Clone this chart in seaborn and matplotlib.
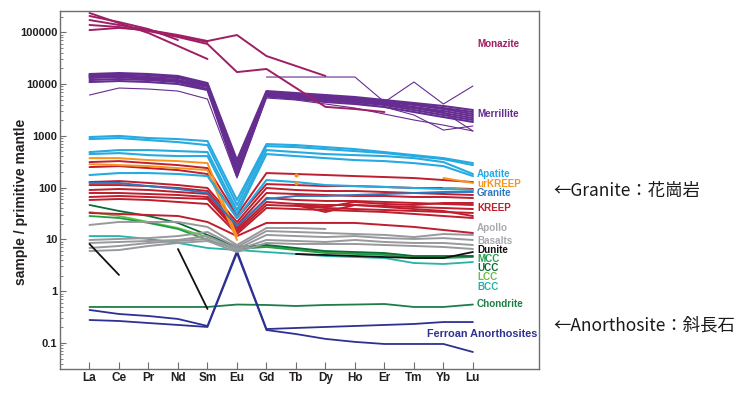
import numpy as np
import pandas as pd
import matplotlib
matplotlib.use("Agg")
import matplotlib.pyplot as plt
import seaborn as sns
from matplotlib.ticker import LogLocator, NullFormatter

N = None
ELEMENTS = ['La', 'Ce', 'Pr', 'Nd', 'Sm', 'Eu', 'Gd', 'Tb', 'Dy', 'Ho', 'Er', 'Tm', 'Yb', 'Lu']

monazite = [
    [235000, 150000, 96500, 54200, 30400, N, N, N, N, N, N, N, N, N],
    [206000, 157000, 115000, 70700, N, N, N, N, N, N, N, N, N, N],
    [172000, 138000, 110000, 88300, 67600, 88300, 34700, 22300, 14300, N, N, N, N, N],
    [138000, 126000, 105000, 80800, 59200, 17000, 19500, 8400, 3620, 3290, 2880, N, N, N],
    [110000, 121000, 110000, 84500, 64700, N, N, N, N, N, N, N, N, N],
]

merrillite = [
    [15600, 16300, 15600, 14300, 10450, 341, 7320, 6700, 6130, 5610, 4910, 4300, 3760, 3150],
    [14900, 15600, 14900, 13650, 10000, 298, 7000, 6410, 5870, 5370, 4700, 4110, 3440, 2880],
    [14300, 14900, 13650, 13060, 9560, 261, 6700, 6130, 5610, 5130, 4490, 3930, 3290, 2630],
    [13650, 14300, 13060, 11950, 9150, 239, 6700, 5870, 5370, 4910, 4300, 3600, 3010, 2410],
    [13060, 13650, 12490, 11430, 8750, 219, 6410, 5610, 5130, 4700, 4110, 3440, 2750, 2200],
    [11950, 12490, 11950, 10930, 8000, 191, 6130, 5370, 4910, 4490, 3930, 3150, 2520, 2020],
    [10930, 11430, 10930, 10000, 7660, 167, 5870, 5130, 4490, 4110, 3600, 2880, 2300, 1850],
]
merrillite_thin = [
    [6130, 8370, 8000, 7320, 5130, 153, 5370, 4910, 4110, 3440, 2630, 2020, 1610, 1240],
    [N, N, N, N, N, N, 13650, 13650, 13650, 13650, 4490, 10930, 4110, 9150],
    [N, N, N, N, N, N, 5610, 5130, 4700, 4300, 3600, 2520, 1290, 1550],
    [N, N, N, N, N, N, 6130, 5610, 5130, 4700, 4110, 3440, 2880, 1240],
]

apatite = [
    [947, 996, 905, 865, 791, 57.7, 692, 662, 605, 554, 485, 424, 371, 297],
    [865, 905, 827, 756, 662, 46.2, 633, 605, 554, 507, 464, 406, 355, 272],
    [485, 530, 530, 507, 485, 37.0, 530, 485, 444, 424, 406, 371, 311, 183],
    [444, 464, 424, 406, 406, 31.0, 444, 406, 371, 340, 325, 297, 260, 167],
    [175, 191, 191, 183, 167, 25.9, 140, 128, 112, 107, 103, 98.3, 94.0, 89.9],
]

urkreep = [
    [371, 371, 340, 325, 297, 11.6, N, N, N, N, N, N, N, N],
    [284, 272, 260, 238, 218, 9.75, N, N, N, N, N, N, N, N],
    [N, N, N, N, N, N, N, N, N, N, N, N, 153, 123],
    [N, N, N, N, N, N, N, N, N, N, N, N, 98.3, 89.9],
]
urkreep_tb = [175, 123]

granite = [
    [123, 123, 107, 94.0, 78.7, 18.2, 60.3, 68.9, 68.9, 72.0, 75.3, 78.7, 82.3, 82.3],
]

kreep = [
    [311, 325, 297, 272, 238, 29.6, 191, 183, 175, 167, 160, 153, 140, 128],
    [249, 260, 238, 218, 183, 25.9, 117, 112, 107, 107, 103, 98.3, 98.3, 94.0],
    [128, 134, 123, 112, 98.3, 21.7, 98.3, 89.9, 86.0, 86.0, 82.3, 78.7, 75.3, 72.0],
    [112, 112, 107, 98.3, 86.0, 19.0, 78.7, 75.3, 72.0, 68.9, 68.9, 65.9, 65.9, 63.0],
    [89.9, 94.0, 89.9, 82.3, 75.3, 16.6, 63.0, 57.7, 55.2, 55.2, 52.8, 50.5, 48.3, 46.2],
    [78.7, 78.7, 75.3, 72.0, 65.9, 15.2, 52.8, 48.3, 46.2, 46.2, 44.2, 42.2, 40.4, 38.6],
    [65.9, 68.9, 65.9, 63.0, 60.3, 13.9, 46.2, 44.2, 40.4, 38.6, 37.0, 35.4, 33.8, 32.4],
    [57.7, 60.3, 57.7, 52.8, 48.3, 12.7, 40.4, 38.6, 37.0, 35.4, 33.8, 31.0, 28.3, 25.9],
    [32.4, 31.0, 29.6, 28.3, 21.7, 11.6, 20.8, 20.8, 20.8, 20.8, 19.0, 17.4, 15.2, 13.3],
    [N, N, N, N, N, N, N, 48.3, 42.2, 52.8, 48.3, 46.2, 50.5, 50.5],
    [N, N, N, N, N, N, N, 46.2, 33.8, 46.2, 42.2, 38.6, 35.4, 28.3],
]

apollo_basalts = [
    [19.0, 21.7, 21.7, 21.7, 17.4, 7.80, 16.6, 16.6, 15.9, N, N, N, N, N],
    [9.75, 10.2, 10.6, 11.6, 13.9, 7.14, 14.5, 13.9, 13.3, 12.7, 12.2, 11.1, 12.7, 12.2],
    [8.53, 8.92, 9.32, 9.75, 11.6, 6.53, 12.2, 11.6, 11.1, 11.6, 10.6, 10.2, 10.6, 9.75],
    [6.83, 7.46, 8.53, 9.32, 10.2, 6.24, 9.75, 9.32, 8.92, 9.75, 8.92, 8.53, 8.53, 7.80],
    [5.97, 6.24, 7.46, 8.53, 9.32, 5.71, 8.53, 8.16, 8.16, 8.16, 7.80, 7.46, 7.14, 6.53],
]

dunite = [
    [8.16, 2.06, N, 6.53, 0.453, N, N, 5.23, 5.00, 4.78, 4.57, 4.37, 4.37, 5.71],
]

ucc = [46.2, 35.4, 28.3, 20.8, 12.2, 7.14, 7.80, 6.83, 5.97, 5.71, 5.46, 4.78, 4.78, 4.78]
lcc = [33.8, 28.3, 21.7, 16.6, 11.1, 7.46, 7.46, 6.53, 5.71, 5.46, 5.23, 4.57, 4.57, 4.78]
mcc = [28.3, 25.9, 20.8, 15.9, 9.75, 6.53, 7.14, 6.24, 5.46, 5.23, 5.00, 4.37, 4.37, 4.57]
bcc = [11.6, 11.6, 10.2, 8.53, 6.83, 6.24, 5.71, 5.23, 4.78, 4.57, 4.37, 3.50, 3.35, 3.66]

chondrite = [0.496, 0.496, 0.496, 0.496, 0.496, 0.553, 0.542, 0.518, 0.542, 0.553, 0.566, 0.496, 0.496, 0.553]

ferroan_anorthosites = [
    [0.434, 0.363, 0.332, 0.291, 0.213, 5.97, 0.186, 0.195, 0.204, 0.213, 0.223, 0.233, 0.254, 0.254],
    [0.278, 0.266, 0.243, 0.223, 0.204, 5.46, 0.178, 0.149, 0.120, 0.105, 0.0957, 0.0957, 0.0957, 0.067],
]

# label texts and colours
label_names = ['Monazite', 'Merrillite', 'Apatite', 'urKREEP', 'Granite', 'KREEP', 'Apollo',
               'Basalts', 'Dunite', 'MCC', 'UCC', 'LCC', 'BCC', 'Chondrite']

C_MON = '#9e1f63'
C_MER = '#662d91'
C_APA = '#27aae1'
C_URK = '#f7941d'
C_GRA = '#2e78bf'
C_KRE = '#be1e2d'
C_APO = '#98999c'
C_DUN = '#111111'
C_MCC = '#1f9e4a'
C_UCC = '#0b6b38'
C_LCC = '#6dbe45'
C_BCC = '#25b3a8'
C_CHO = '#1e7d48'
C_FAN = '#2e3192'

groups = [
    ('Chondrite', [chondrite], C_CHO, 1.3),
    ('Ferroan Anorthosites', ferroan_anorthosites, C_FAN, 1.3),
    ('BCC', [bcc], C_BCC, 1.3),
    ('LCC', [lcc], C_LCC, 1.3),
    ('MCC', [mcc], C_MCC, 1.3),
    ('UCC', [ucc], C_UCC, 1.3),
    ('Apollo Basalts', apollo_basalts, C_APO, 1.4),
    ('Dunite', dunite, C_DUN, 1.3),
    ('KREEP', kreep, C_KRE, 1.4),
    ('urKREEP', urkreep, C_URK, 1.4),
    ('Granite', granite, C_GRA, 1.4),
    ('Apatite', apatite, C_APA, 1.5),
    ('Merrillite thin', merrillite_thin, C_MER, 0.8),
    ('Merrillite', merrillite, C_MER, 1.5),
    ('Monazite', monazite, C_MON, 1.4),
]

# build long-form table, splitting lines at gaps
rows = []
unit = 0
for gname, lines, color, lw in groups:
    for line in lines:
        seg = []
        for i, v in enumerate(line + [None]):
            if v is None:
                if len(seg) >= 2:
                    for (xi, vi) in seg:
                        rows.append(dict(group=gname, unit=unit, x=xi, value=vi))
                    unit += 1
                seg = []
            else:
                seg.append((i, v))
df = pd.DataFrame(rows)

sns.set_style('white')
plt.rcParams['font.family'] = ['Liberation Sans', 'DejaVu Sans']

fig = plt.figure(figsize=(7.51, 3.94), dpi=100)
ax = fig.add_axes([0.0799, 0.0635, 0.6378, 0.9086])
ax.set_yscale('log')

for gname, lines, color, lw in groups:
    sub = df[df['group'] == gname]
    sns.lineplot(data=sub, x='x', y='value', units='unit', estimator=None, sort=False,
                 color=color, linewidth=lw, legend=False, ax=ax)

tb_df = pd.DataFrame(dict(x=[ELEMENTS.index('Tb')] * len(urkreep_tb), value=urkreep_tb))
sns.scatterplot(data=tb_df, x='x', y='value', color=C_URK, s=9, linewidth=0, ax=ax, zorder=5)

ax.set_xlim(-1.0, 15.24)
ax.set_ylim(0.0315, 257000)
ax.set_xticks(range(len(ELEMENTS)))
ax.set_xticklabels(ELEMENTS, fontweight='bold', fontsize=8.5, color='#231f20')
yt = [0.1, 1, 10, 100, 1000, 10000, 100000]
ax.set_yticks(yt)
ax.set_yticklabels(['0.1', '1', '10', '100', '1000', '10000', '100000'],
                   fontweight='bold', fontsize=8, color='#231f20')
ax.yaxis.set_minor_locator(LogLocator(base=10, subs=np.arange(2, 10)))
ax.yaxis.set_minor_formatter(NullFormatter())
ax.set_xlabel('')
ax.set_ylabel('sample / primitive mantle', fontweight='bold', fontsize=10, color='#231f20')
ax.yaxis.set_label_coords(-0.066, 0.466)

spine_c = '#6d6e71'
for s in ax.spines.values():
    s.set_color(spine_c)
    s.set_linewidth(1.0)
ax.tick_params(axis='y', which='major', direction='in', length=4, width=0.8, color=spine_c,
               pad=2, left=True, right=False)
ax.tick_params(axis='y', which='minor', direction='in', length=2.5, width=0.6, color=spine_c,
               left=True, right=False)
ax.tick_params(axis='x', which='major', direction='in', length=5, width=0.8, color=spine_c,
               pad=2, bottom=True, top=False)

label_pos = [0.9078, 0.7123, 0.5433, 0.5168, 0.4916, 0.4497, 0.3939, 0.3575, 0.3324,
             0.3059, 0.2807, 0.2556, 0.2304, 0.1816]
label_cols = [C_MON, C_MER, C_APA, C_URK, C_GRA, C_KRE, '#a7a9ac', '#a7a9ac', C_DUN,
              C_MCC, C_UCC, C_LCC, C_BCC, C_CHO]
for name, yp, col in zip(label_names, label_pos, label_cols):
    ax.text(0.8706, yp, name, transform=ax.transAxes, fontsize=7.1, fontweight='bold',
            color=col, ha='left', va='center')
ax.text(0.7662, 0.0978, 'Ferroan Anorthosites', transform=ax.transAxes, fontsize=7.8,
        fontweight='bold', color=C_FAN, ha='left', va='center')

jp = ['Noto Sans CJK JP', 'DejaVu Sans']
fig.text(0.7363, 0.5152, '←Granite：花崗岩', family=jp, fontsize=12.5, color='#1a1a1a',
         ha='left', va='center')
fig.text(0.7363, 0.1751, '←Anorthosite：斜長石', family=jp, fontsize=12.5, color='#1a1a1a',
         ha='left', va='center')

fig.savefig('out.png', dpi=100)
